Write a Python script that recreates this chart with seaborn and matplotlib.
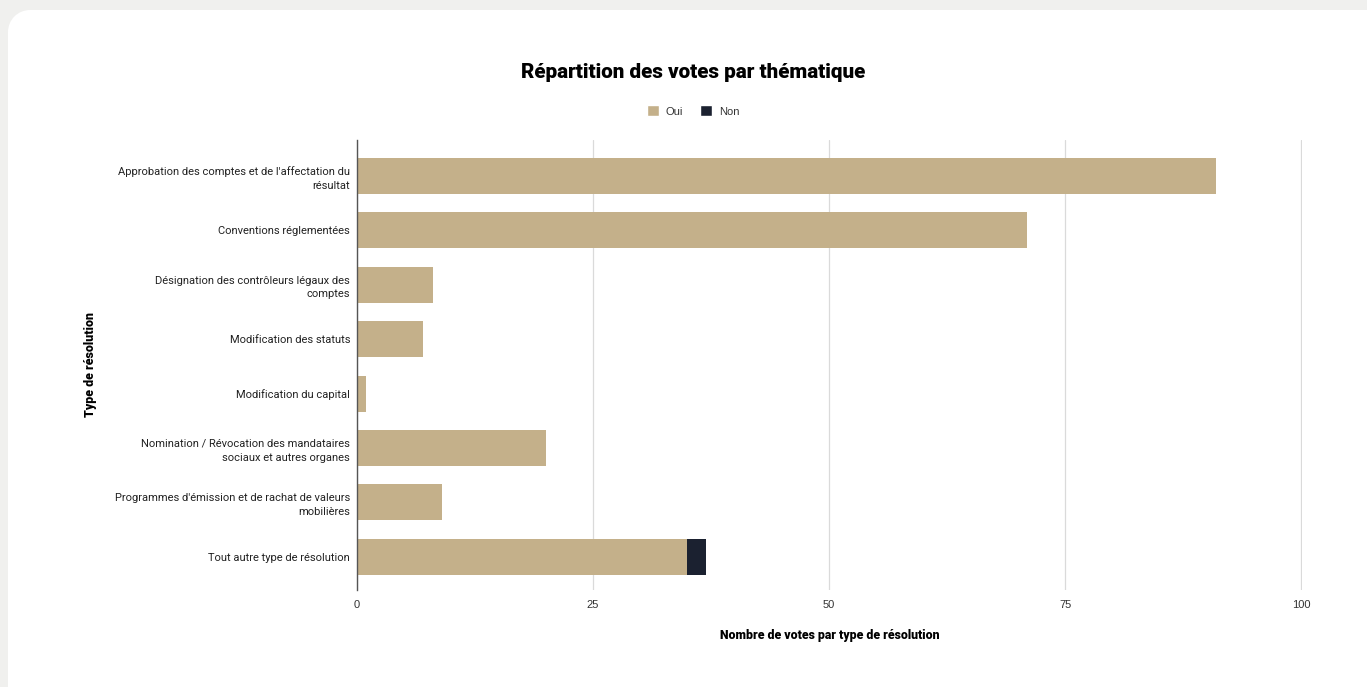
import numpy as np
import pandas as pd
import seaborn as sns
import matplotlib.pyplot as plt
from matplotlib.patches import Patch, Rectangle, Circle
from matplotlib.transforms import IdentityTransform

# Data
categories = [
    "Approbation des comptes et de l'affectation du\nrésultat",
    "Conventions réglementées",
    "Désignation des contrôleurs légaux des\ncomptes",
    "Modification des statuts",
    "Modification du capital",
    "Nomination / Révocation des mandataires\nsociaux et autres organes",
    "Programmes d'émission et de rachat de valeurs\nmobilières",
    "Tout autre type de résolution",
]
oui = [91, 71, 8, 7, 1, 20, 9, 35]
non = [0, 0, 0, 0, 0, 0, 0, 2]

OUI_COLOR = "#c4b08a"
NON_COLOR = "#1b2130"

df = pd.DataFrame({"categorie": categories, "Oui": oui, "Non": non})
df["total"] = df["Oui"] + df["Non"]

sns.set_style("white")
plt.rcParams["font.family"] = ["Roboto", "DejaVu Sans"]

fig = plt.figure(figsize=(13.67, 6.87), dpi=100)
fig.patch.set_facecolor("#f0f0ee")

# white card, rounded only at the top-left corner (pixel coords)
r = 22
for p in [Rectangle((8 + r, 0), 2000, 677),
          Rectangle((8, 0), 2000, 677 - r),
          Circle((8 + r, 677 - r), r)]:
    p.set_transform(IdentityTransform())
    p.set_facecolor("white")
    p.set_edgecolor("none")
    p.set_zorder(-10)
    fig.patches.append(p)

ax = fig.add_axes([357 / 1367, 1 - 590 / 687, (1302 - 357) / 1367, 450 / 687])
ax.set_zorder(1)
ax.set_facecolor("none")

# stacked bars: total (Non) underneath, Oui on top
sns.barplot(data=df, x="total", y="categorie", color=NON_COLOR, width=0.66,
            saturation=1, ax=ax, orient="h", zorder=2, linewidth=0)
sns.barplot(data=df, x="Oui", y="categorie", color=OUI_COLOR, width=0.66,
            saturation=1, ax=ax, orient="h", zorder=3, linewidth=0)

ax.set_xlim(0, 100.1)
ax.set_ylim(7.61, -0.66)
ax.set_xticks([0, 25, 50, 75, 100])
ax.xaxis.grid(True, color="#dadada", linewidth=0.9)
ax.set_axisbelow(True)
for side in ["top", "right", "bottom"]:
    ax.spines[side].set_visible(False)
ax.spines["left"].set_color("#555555")
ax.spines["left"].set_linewidth(1)
ax.spines["left"].set_zorder(4)

ax.tick_params(axis="x", length=0, pad=7, labelsize=8, labelcolor="#333333")
ax.tick_params(axis="y", length=0, pad=5, labelsize=8, labelcolor="#222222")
for lbl in ax.get_xticklabels():
    lbl.set_fontfamily(["Liberation Sans", "DejaVu Sans"])
for lbl in ax.get_yticklabels():
    lbl.set_horizontalalignment("right")
    lbl.set_multialignment("right")
    lbl.set_linespacing(1.45)

ax.set_xlabel("Nombre de votes par type de résolution", fontsize=8.8,
              fontweight="heavy", color="black", labelpad=14)
ax.set_ylabel("Type de résolution", fontsize=8.9, fontweight="heavy",
              color="black")
ax.yaxis.set_label_coords(-(357 - 97) / 945, 0.5)

fig.text(693 / 1367, 1 - 72 / 687, "Répartition des votes par thématique",
         ha="center", va="center", fontsize=14.9, fontweight="heavy",
         color="black")

handles = [Patch(facecolor=OUI_COLOR, label="Oui"),
           Patch(facecolor=NON_COLOR, label="Non")]
leg = fig.legend(handles=handles, loc="center",
                 bbox_to_anchor=(693 / 1367, 1 - 111 / 687),
                 ncol=2, frameon=False, fontsize=8, handlelength=1.1,
                 handleheight=1.1, handletextpad=0.6, columnspacing=1.5,
                 labelcolor="#333333",
                 prop={"family": ["Liberation Sans", "DejaVu Sans"], "size": 8})

fig.savefig("out.png", dpi=100, facecolor=fig.get_facecolor())
